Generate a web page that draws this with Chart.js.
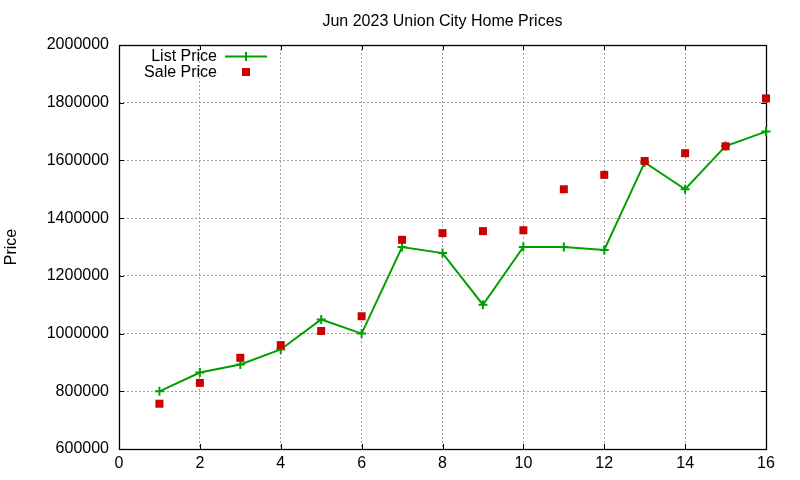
<!DOCTYPE html>
<html>
<head>
    <title>Jun 2023 Union City Home Prices</title>
    <style>
        body {
            margin: 0;
            background: #ffffff;
        }
        .container {
            width: 800px;
            height: 480px;
        }
    </style>
</head>
<body>
    <div class="container">
        <canvas id="priceChart"></canvas>
    </div>

    <script src="https://cdn.jsdelivr.net/npm/chart.js"></script>
    <script>
        // values
        const homeIndex = [1, 2, 3, 4, 5, 6, 7, 8, 9, 10, 11, 12, 13, 14, 15, 16];
        const listPrice = [800000, 865000, 893000, 945000, 1049000, 1000000, 1300000, 1279000,
                           1100000, 1300000, 1300000, 1290000, 1593000, 1500000, 1650000, 1700000];
        const salePrice = [757000, 829000, 916000, 960000, 1009000, 1060000, 1325000, 1348000,
                           1355000, 1358000, 1500000, 1550000, 1598000, 1625000, 1649000, 1815000];
        const xTicks = [0, 2, 4, 6, 8, 10, 12, 14, 16];
        const yTicks = [600000, 800000, 1000000, 1200000, 1400000, 1600000, 1800000, 2000000];

        const FONT = 'Liberation Sans, Arial, sans-serif';
        const GREEN = '#00a000';
        const RED = '#cc0000';

        // gnuplot-like frame with inward tick marks, plus the key in the top left
        const framePlugin = {
            id: 'frame',
            beforeDatasetsDraw(chart) {
                const ctx = chart.ctx;
                const a = chart.chartArea;
                const xs = chart.scales.x, ys = chart.scales.y;
                ctx.save();
                ctx.strokeStyle = '#000';
                ctx.lineWidth = 1;
                ctx.beginPath();
                xTicks.forEach(v => {
                    const px = Math.round(xs.getPixelForValue(v)) + 0.5;
                    ctx.moveTo(px, a.bottom); ctx.lineTo(px, a.bottom - 5);
                    ctx.moveTo(px, a.top); ctx.lineTo(px, a.top + 5);
                });
                yTicks.forEach(v => {
                    const py = Math.round(ys.getPixelForValue(v)) + 0.5;
                    ctx.moveTo(a.left, py); ctx.lineTo(a.left + 5, py);
                    ctx.moveTo(a.right, py); ctx.lineTo(a.right - 5, py);
                });
                ctx.stroke();
                ctx.lineWidth = 1.3;
                ctx.strokeRect(Math.round(a.left) + 0.5, Math.round(a.top) + 0.5,
                               Math.round(a.right - a.left), Math.round(a.bottom - a.top));
                ctx.restore();
            },
            afterDraw(chart) {
                const ctx = chart.ctx;
                const a = chart.chartArea;
                const sets = chart.data.datasets;
                const textRight = a.left + 98;
                const sampleX = a.left + 127;
                ctx.save();
                ctx.font = '16px ' + FONT;
                ctx.fillStyle = '#000';
                ctx.textAlign = 'right';
                ctx.textBaseline = 'middle';
                ctx.fillText(sets[0].label, textRight, a.top + 12);
                ctx.fillText(sets[1].label, textRight, a.top + 28);

                // list price sample: line with a plus
                const y1 = a.top + 11.5;
                ctx.strokeStyle = GREEN;
                ctx.lineWidth = 2;
                ctx.beginPath();
                ctx.moveTo(sampleX - 21, y1); ctx.lineTo(sampleX + 21, y1);
                ctx.moveTo(sampleX, y1 - 4.5); ctx.lineTo(sampleX, y1 + 4.5);
                ctx.stroke();

                // sale price sample: square
                ctx.fillStyle = RED;
                ctx.fillRect(sampleX - 4, a.top + 27 - 4, 8, 8);
                ctx.restore();
            }
        };

        const ctx = document.getElementById('priceChart').getContext('2d');
        const chart = new Chart(ctx, {
            type: 'line',
            data: {
                datasets: [{
                    label: 'List Price',
                    data: homeIndex.map((x, i) => ({ x: x, y: listPrice[i] })),
                    borderColor: GREEN,
                    backgroundColor: GREEN,
                    borderWidth: 2,
                    tension: 0,
                    pointStyle: 'cross',
                    pointRadius: 4.5,
                    pointBorderWidth: 2,
                    pointBorderColor: GREEN,
                    clip: false,
                    order: 2
                }, {
                    type: 'scatter',
                    label: 'Sale Price',
                    data: homeIndex.map((x, i) => ({ x: x, y: salePrice[i] })),
                    showLine: false,
                    pointStyle: 'rect',
                    pointRadius: 5.66,
                    pointBorderWidth: 0,
                    backgroundColor: RED,
                    borderColor: RED,
                    clip: false,
                    order: 1
                }]
            },
            options: {
                responsive: true,
                maintainAspectRatio: false,
                animation: false,
                events: [],
                layout: {
                    padding: { top: 0, right: 34, bottom: 0, left: 0 }
                },
                plugins: {
                    legend: { display: false },
                    tooltip: { enabled: false },
                    title: {
                        display: true,
                        fullSize: false,
                        text: 'Jun 2023 Union City Home Prices',
                        color: '#000',
                        font: { family: FONT, size: 16, weight: 'normal', lineHeight: 1.2 },
                        padding: { top: 12, bottom: 13.8 }
                    }
                },
                scales: {
                    x: {
                        type: 'linear',
                        min: 0,
                        max: 16,
                        afterFit(scale) { scale.height = 31; },
                        afterBuildTicks(scale) { scale.ticks = xTicks.map(v => ({ value: v })); },
                        ticks: {
                            color: '#000',
                            padding: 5,
                            maxRotation: 0,
                            font: { family: FONT, size: 16 }
                        },
                        grid: {
                            color: '#a0a0a0',
                            lineWidth: 1,
                            drawTicks: false
                        },
                        border: { display: false, dash: [2, 2] }
                    },
                    y: {
                        type: 'linear',
                        min: 600000,
                        max: 2000000,
                        afterFit(scale) { scale.width = 119; },
                        afterBuildTicks(scale) { scale.ticks = yTicks.map(v => ({ value: v })); },
                        ticks: {
                            color: '#000',
                            padding: 10,
                            font: { family: FONT, size: 16 },
                            callback: v => String(v)
                        },
                        grid: {
                            color: '#a0a0a0',
                            lineWidth: 1,
                            drawTicks: false
                        },
                        border: { display: false, dash: [2, 2] },
                        title: {
                            display: true,
                            text: 'Price',
                            color: '#000',
                            font: { family: FONT, size: 16, lineHeight: 1.2 },
                            padding: { top: 2, bottom: 0 }
                        }
                    }
                }
            },
            plugins: [framePlugin]
        });
    </script>
</body>
</html>
